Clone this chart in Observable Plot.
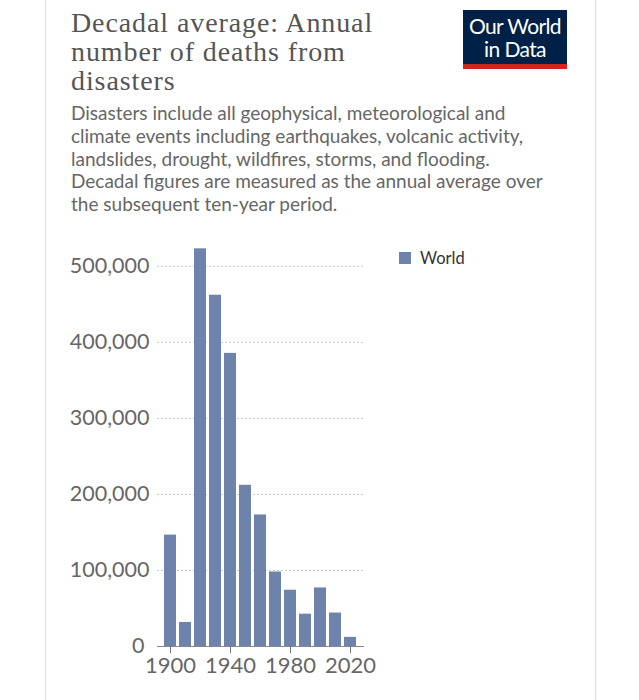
<!DOCTYPE html>
<html>
<head>
<meta charset="utf-8">
<script src="https://cdn.jsdelivr.net/npm/d3@7"></script>
<script src="https://cdn.jsdelivr.net/npm/@observablehq/plot@0.6"></script>
<style>
  html, body { margin: 0; padding: 0; background: #fff; }
  body { width: 639px; height: 700px; position: relative; overflow: hidden; font-family: Lato, sans-serif; }
  .card { position: absolute; left: 45px; top: -5px; width: 549px; height: 720px; border-left: 1px solid #e2e2e2; border-right: 1px solid #e2e2e2; box-shadow: 0 0 2px rgba(0,0,0,0.08); }
  .title { position: absolute; left: 71px; top: 8px; white-space: nowrap; font-family: "Liberation Serif", "DejaVu Serif", serif; font-size: 28px; color: #555; letter-spacing: 0.9px; }
  .title div { height: 29px; line-height: 29px; }
  .subtitle { position: absolute; left: 71px; top: 102px; white-space: nowrap; font-family: Lato, sans-serif; font-size: 19px; line-height: 22.8px; color: #666; }
  .logo { position: absolute; left: 463px; top: 10px; width: 104px; height: 59px; background: #002147; border-bottom: 5px solid #ce261e; box-sizing: border-box; color: #fff; font-family: Lato, sans-serif; font-size: 21px; text-align: center; padding-top: 4px; letter-spacing: -0.6px; }
  .logo div { height: 23px; line-height: 23px; }
  .legend { position: absolute; left: 399px; top: 248px; font-family: Lato, sans-serif; font-size: 16.5px; color: #333; display: flex; align-items: center; }
  .legend .sw { width: 12px; height: 12px; background: #6d83ab; margin-right: 9px; }
  #chart { position: absolute; left: 0; top: 240px; }
</style>
</head>
<body>
<div class="card"></div>
<div class="title"><div>Decadal average: Annual</div><div>number of deaths from</div><div>disasters</div></div>
<div class="logo"><div>Our World</div><div>in Data</div></div>
<div class="subtitle">Disasters include all geophysical, meteorological and<br>climate events including earthquakes, volcanic activity,<br>landslides, drought, wildfires, storms, and flooding.<br>Decadal figures are measured as the annual average over<br>the subsequent ten-year period.</div>
<div class="legend"><div class="sw"></div><span>World</span></div>
<div id="chart"></div>
<script>
const decades = [1900, 1910, 1920, 1930, 1940, 1950, 1960, 1970, 1980, 1990, 2000, 2010, 2020];
const deaths = [146500, 31600, 523000, 462000, 385500, 212000, 173000, 98000, 74000, 42500, 77000, 44000, 12000];
const xTicks = [1900, 1940, 1980, 2020];
const yTicks = [0, 100000, 200000, 300000, 400000, 500000];
const seriesName = "World";

const data = decades.map((d, i) => ({decade: d, deaths: deaths[i], entity: seriesName}));

const chart = Plot.plot({
  width: 639,
  height: 450,
  marginLeft: 157,
  marginRight: 275,
  marginTop: 3,
  marginBottom: 44,
  style: {fontFamily: "Lato, sans-serif", color: "#666", background: "transparent"},
  x: {type: "band", domain: decades, padding: 0.18},
  y: {domain: [0, 530000]},
  marks: [
    Plot.gridY(yTicks.filter(d => d > 0), {stroke: "#c8c8c8", strokeOpacity: 1, strokeDasharray: "2,2"}),
    Plot.barY(data, {x: "decade", y: "deaths", fill: "#6d83ab"}),
    Plot.ruleY([0], {stroke: "#888", strokeWidth: 1}),
    Plot.axisY(yTicks.filter(d => d > 0), {tickSize: 0, tickPadding: 8, tickFormat: d3.format(","), fontSize: 21.5, fill: "#666", label: null}),
    Plot.axisY([0], {tickSize: 0, tickPadding: 13, tickFormat: d3.format(","), fontSize: 21.5, fill: "#666", label: null}),
    Plot.axisX(xTicks, {tickSize: 7, tickPadding: 4, stroke: "#777", tickFormat: d => String(d), fontSize: 22, fill: "#666", label: null})
  ]
});
document.getElementById("chart").appendChild(chart);
</script>
</body>
</html>
